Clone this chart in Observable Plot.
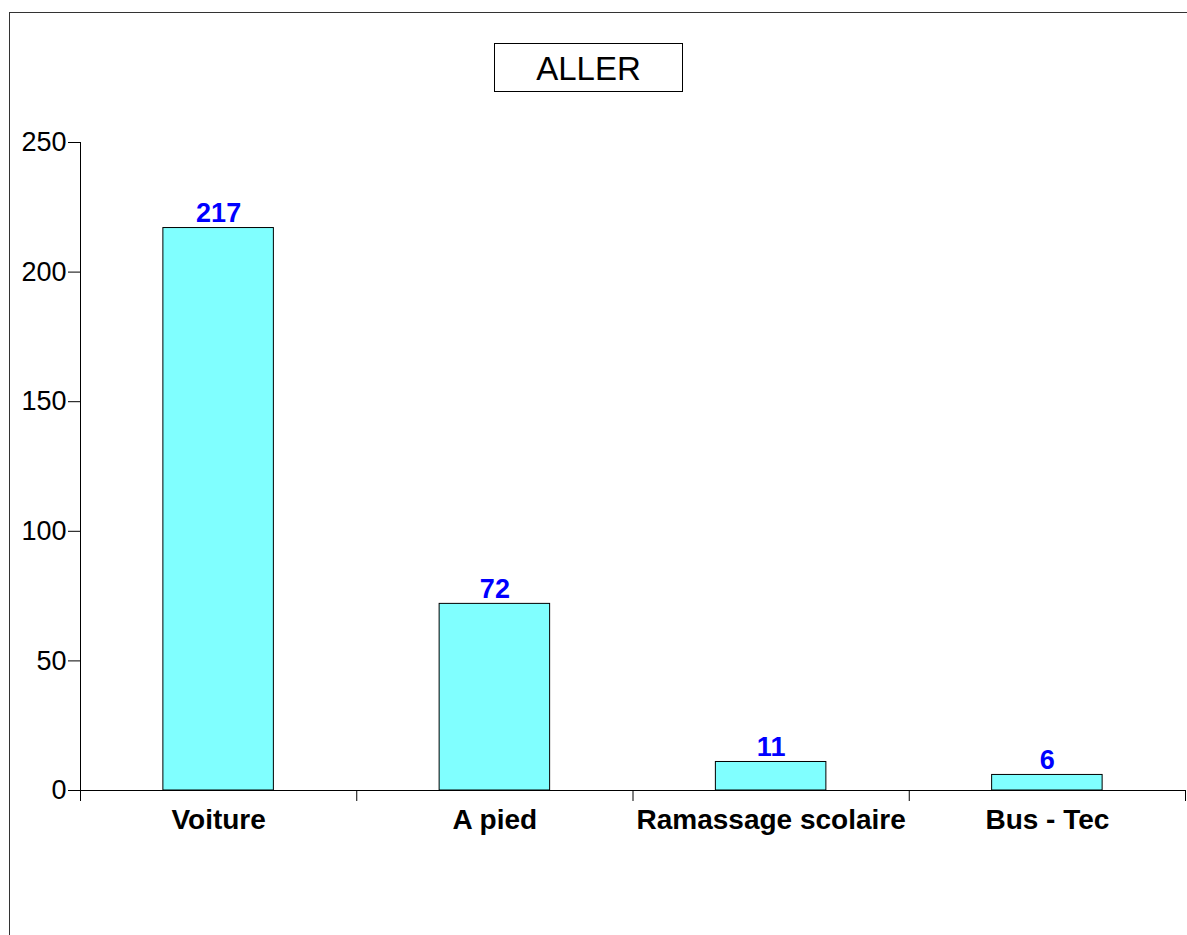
<!DOCTYPE html>
<html>
<head>
<meta charset="utf-8">
<script src="https://cdn.jsdelivr.net/npm/d3@7"></script>
<script src="https://cdn.jsdelivr.net/npm/@observablehq/plot@0.6"></script>
<style>
  html, body { margin: 0; padding: 0; background: #fff; overflow: hidden; }
  #wrap { position: relative; width: 1187px; height: 935px; font-family: "Liberation Sans", Arial, sans-serif; }
  #frame { position: absolute; left: 9px; top: 12px; width: 1400px; height: 1200px; border: 1px solid #333; box-sizing: border-box; }
  #title { position: absolute; left: 494px; top: 43px; width: 189px; height: 49px; border: 1px solid #000; box-sizing: border-box;
           display: flex; align-items: center; justify-content: center; font-size: 33px; color: #000; background: #fff; padding-top: 2px; }
  #chart { position: absolute; left: 0; top: 0; }
</style>
</head>
<body>
<div id="wrap">
  <div id="frame"></div>
  <div id="chart"></div>
  <div id="title">ALLER</div>
</div>
<script>
const categories = ["Voiture", "A pied", "Ramassage scolaire", "Bus - Tec"];
const values = [217, 72, 11, 6];
const yTicks = [0, 50, 100, 150, 200, 250];

const data = categories.map((c, i) => ({category: c, index: i, value: values[i]}));
const boundaries = d3.range(categories.length + 1);

const chart = Plot.plot({
  width: 1187,
  height: 935,
  marginLeft: 80,
  marginRight: 2,
  marginTop: 142,
  marginBottom: 145,
  style: {fontFamily: "'Liberation Sans', Arial, sans-serif", background: "transparent", color: "#000"},
  x: {type: "linear", domain: [0, categories.length]},
  y: {domain: [0, 250]},
  marks: [
    Plot.rectY(data, {
      x1: d => d.index + 0.3, x2: d => d.index + 0.7, y1: 0, y2: "value",
      fill: "#80ffff", stroke: "#000", strokeWidth: 1
    }),
    Plot.ruleY([0], {stroke: "#000"}),
    Plot.ruleX([0], {y1: 0, y2: 250, stroke: "#000"}),
    Plot.axisY({ticks: yTicks, tickSize: 12, tickPadding: 2, fontSize: 27, label: null, stroke: "#000"}),
    Plot.axisX({ticks: boundaries, tickSize: 11, tickFormat: () => "", label: null, stroke: "#000"}),
    Plot.text(data, {
      x: d => d.index + 0.5, y: 0, text: "category", lineAnchor: "bottom", dy: 38,
      fontSize: 28, fontWeight: "bold", fill: "#000"
    }),
    Plot.text(data, {
      x: d => d.index + 0.5, y: "value", text: d => String(d.value), lineAnchor: "bottom", dy: -6,
      fontSize: 27, fontWeight: "bold", fill: "#0000ff"
    })
  ]
});
document.getElementById("chart").appendChild(chart);
</script>
</body>
</html>
